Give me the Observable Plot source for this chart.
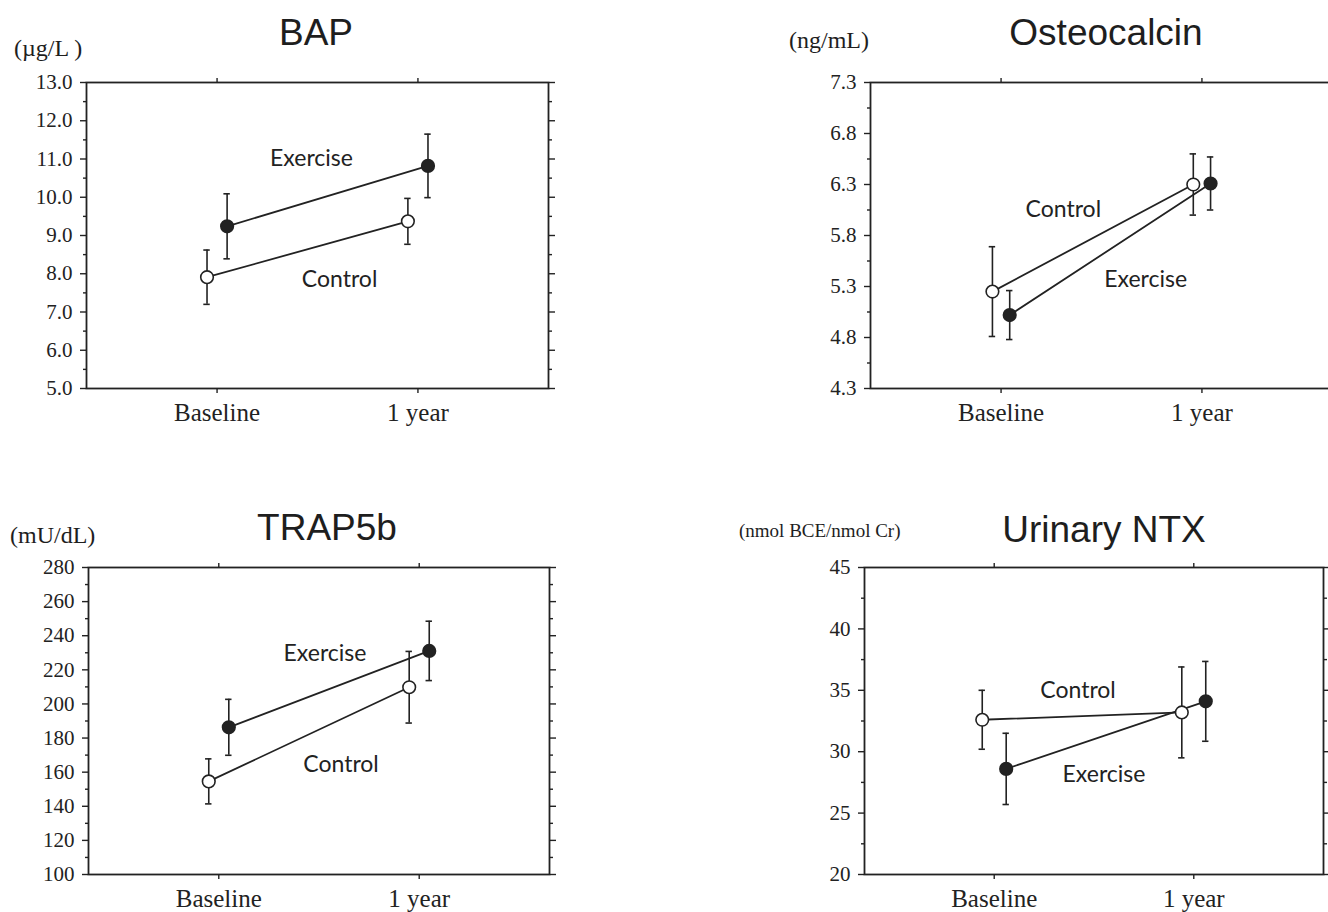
<!DOCTYPE html>
<html>
<head>
<meta charset="utf-8">
<script src="https://cdn.jsdelivr.net/npm/d3@7"></script>
<script src="https://cdn.jsdelivr.net/npm/@observablehq/plot@0.6"></script>
<style>
  html, body { margin: 0; padding: 0; background: #fff; overflow: hidden; }
  #root { position: relative; width: 1328px; height: 912px; overflow: hidden; background: #fff; }
  .panel { position: absolute; }
  .panel svg { max-width: none !important; overflow: visible; }
  .title { position: absolute; font-family: "Liberation Sans", Arial, sans-serif; font-size: 37px; line-height: 1; color: #1e1e1e; white-space: nowrap; transform: translateX(-50%); }
  .unit { position: absolute; font-family: "Liberation Serif", "Times New Roman", serif; line-height: 1; color: #1e1e1e; white-space: nowrap; }
</style>
</head>
<body>
<div id="root"></div>
<script>
// ---- categories ----
const timepoints = ["Baseline", "1 year"];
const groups = ["Control", "Exercise"];

// ---- BAP (µg/L) ----
const bapControlMean = [7.91, 9.37];
const bapControlErr = [0.71, 0.60];
const bapExerciseMean = [9.24, 10.82];
const bapExerciseErr = [0.85, 0.83];
const bapMajorTicks = [5, 6, 7, 8, 9, 10, 11, 12, 13];
const bapMinorTicks = [5.5, 6.5, 7.5, 8.5, 9.5, 10.5, 11.5, 12.5];

// ---- Osteocalcin (ng/mL) ----
const ocControlMean = [5.25, 6.30];
const ocControlErr = [0.44, 0.30];
const ocExerciseMean = [5.02, 6.31];
const ocExerciseErr = [0.24, 0.26];
const ocMajorTicks = [4.3, 4.8, 5.3, 5.8, 6.3, 6.8, 7.3];
const ocMinorTicks = [4.55, 5.05, 5.55, 6.05, 6.55, 7.05];

// ---- TRAP5b (mU/dL) ----
const trapControlMean = [154.6, 209.8];
const trapControlErr = [13.2, 21.0];
const trapExerciseMean = [186.3, 231.1];
const trapExerciseErr = [16.4, 17.4];
const trapMajorTicks = [100, 120, 140, 160, 180, 200, 220, 240, 260, 280];
const trapMinorTicks = [110, 130, 150, 170, 190, 210, 230, 250, 270];

// ---- Urinary NTX (nmol BCE/nmol Cr) ----
const ntxControlMean = [32.6, 33.2];
const ntxControlErr = [2.4, 3.7];
const ntxExerciseMean = [28.6, 34.1];
const ntxExerciseErr = [2.9, 3.25];
const ntxMajorTicks = [20, 25, 30, 35, 40, 45];
const ntxMinorTicks = [22.5, 27.5, 32.5, 37.5, 42.5];

// ---- in-plot group labels (data units) ----
const bapLabels = [{text: "Exercise", x: 0.47, y: 11.0}, {text: "Control", x: 0.61, y: 7.85}];
const ocLabels = [{text: "Control", x: 0.31, y: 6.05}, {text: "Exercise", x: 0.72, y: 5.37}];
const trapLabels = [{text: "Exercise", x: 0.53, y: 229.6}, {text: "Control", x: 0.61, y: 164.5}];
const ntxLabels = [{text: "Control", x: 0.42, y: 35.0}, {text: "Exercise", x: 0.55, y: 28.1}];

const ink = "#222";
const root = document.getElementById("root");

function makePanel(cfg) {
  const rows = [];
  const series = [[groups[0], cfg.cMean, cfg.cErr], [groups[1], cfg.eMean, cfg.eErr]];
  for (const [g, mean, err] of series) {
    timepoints.forEach((tp, i) => {
      rows.push({
        group: g,
        t: i,
        x: i + (g === "Control" ? -cfg.dodge : cfg.dodge),
        y: mean[i],
        lo: mean[i] - err[i],
        hi: mean[i] + err[i]
      });
    });
  }
  const cap = 0.016;
  const plot = Plot.plot({
    width: cfg.width,
    height: cfg.height,
    marginLeft: cfg.mL,
    marginRight: cfg.mR,
    marginTop: cfg.mT,
    marginBottom: cfg.mB,
    x: {domain: [-0.65, 1.65]},
    y: {domain: cfg.yDomain},
    style: {fontFamily: "'Liberation Serif','Times New Roman',serif", fontSize: "21px", color: ink, background: "transparent", overflow: "visible"},
    marks: [
      Plot.axisY({ticks: cfg.minor, tickSize: 3, fill: "none", label: null, strokeWidth: 1.4}),
      Plot.axisY({ticks: cfg.major, tickSize: 6, tickPadding: 8, tickFormat: cfg.fmt, fontSize: 21, label: null, strokeWidth: 1.4}),
      Plot.axisY({anchor: "right", ticks: cfg.minor, tickSize: 3, fill: "none", label: null, strokeWidth: 1.4}),
      Plot.axisY({anchor: "right", ticks: cfg.major, tickSize: 6, fill: "none", label: null, strokeWidth: 1.4}),
      Plot.axisX({anchor: "top", ticks: [0, 1], tickSize: 5, fill: "none", label: null, strokeWidth: 1.4}),
      Plot.axisX({anchor: "bottom", ticks: [0, 1], tickSize: 5, tickPadding: 10, tickFormat: i => timepoints[i], fontSize: 25, label: null, strokeWidth: 1.4}),
      Plot.frame({stroke: ink, strokeWidth: 1.8}),
      Plot.ruleX(rows, {x: "x", y1: "lo", y2: "hi", stroke: ink, strokeWidth: 1.6}),
      Plot.ruleY(rows, {y: "hi", x1: d => d.x - cap, x2: d => d.x + cap, stroke: ink, strokeWidth: 1.6}),
      Plot.ruleY(rows, {y: "lo", x1: d => d.x - cap, x2: d => d.x + cap, stroke: ink, strokeWidth: 1.6}),
      Plot.line(rows, {x: "x", y: "y", z: "group", stroke: ink, strokeWidth: 1.8}),
      Plot.dot(rows.filter(d => d.group === "Control"), {x: "x", y: "y", r: 6.3, fill: "white", stroke: ink, strokeWidth: 1.6}),
      Plot.dot(rows.filter(d => d.group === "Exercise"), {x: "x", y: "y", r: 6.3, fill: ink, stroke: ink, strokeWidth: 1.6}),
      Plot.text(cfg.labels, {x: "x", y: "y", text: "text", fontFamily: "Lato, 'Open Sans', sans-serif", fontSize: 23, fill: ink})
    ]
  });
  const wrap = document.createElement("div");
  wrap.className = "panel";
  wrap.style.left = cfg.left + "px";
  wrap.style.top = cfg.top + "px";
  wrap.appendChild(plot);
  root.appendChild(wrap);

  const t = document.createElement("div");
  t.className = "title";
  t.textContent = cfg.title;
  t.style.left = cfg.titleX + "px";
  t.style.top = cfg.titleTop + "px";
  root.appendChild(t);

  const u = document.createElement("div");
  u.className = "unit";
  u.textContent = cfg.unit;
  u.style.left = cfg.unitX + "px";
  u.style.top = cfg.unitTop + "px";
  u.style.fontSize = cfg.unitSize + "px";
  root.appendChild(u);
}

const f1 = d => d.toFixed(1);
const f0 = d => String(d);

makePanel({
  title: "BAP", unit: "(µg/L )", titleX: 316, titleTop: 14, unitX: 14, unitTop: 36, unitSize: 24,
  left: 0, top: 0, width: 664, height: 456, mL: 86, mR: 116, mT: 82, mB: 68,
  yDomain: [5, 13], major: bapMajorTicks, minor: bapMinorTicks, fmt: f1,
  cMean: bapControlMean, cErr: bapControlErr, eMean: bapExerciseMean, eErr: bapExerciseErr,
  labels: bapLabels, dodge: 0.05
});
makePanel({
  title: "Osteocalcin", unit: "(ng/mL)", titleX: 1106, titleTop: 14, unitX: 789, unitTop: 28, unitSize: 24,
  left: 664, top: 0, width: 672, height: 456, mL: 206, mR: 4, mT: 82, mB: 68,
  yDomain: [4.3, 7.3], major: ocMajorTicks, minor: ocMinorTicks, fmt: f1,
  cMean: ocControlMean, cErr: ocControlErr, eMean: ocExerciseMean, eErr: ocExerciseErr,
  labels: ocLabels, dodge: 0.043
});
makePanel({
  title: "TRAP5b", unit: "(mU/dL)", titleX: 327, titleTop: 509, unitX: 10, unitTop: 523, unitSize: 24,
  left: 0, top: 456, width: 664, height: 456, mL: 88, mR: 115, mT: 111, mB: 38,
  yDomain: [100, 280], major: trapMajorTicks, minor: trapMinorTicks, fmt: f0,
  cMean: trapControlMean, cErr: trapControlErr, eMean: trapExerciseMean, eErr: trapExerciseErr,
  labels: trapLabels, dodge: 0.05
});
makePanel({
  title: "Urinary NTX", unit: "(nmol BCE/nmol Cr)", titleX: 1104, titleTop: 511, unitX: 739, unitTop: 521, unitSize: 19,
  left: 664, top: 456, width: 664, height: 456, mL: 200, mR: 5, mT: 111, mB: 38,
  yDomain: [20, 45], major: ntxMajorTicks, minor: ntxMinorTicks, fmt: f0,
  cMean: ntxControlMean, cErr: ntxControlErr, eMean: ntxExerciseMean, eErr: ntxExerciseErr,
  labels: ntxLabels, dodge: 0.06
});
</script>
</body>
</html>
